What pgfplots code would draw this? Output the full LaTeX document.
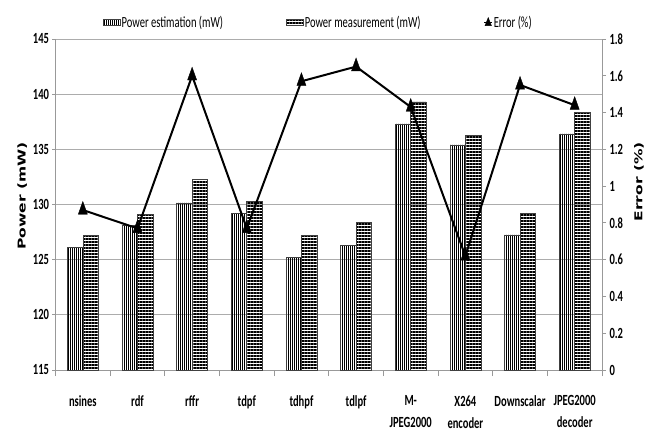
\documentclass[border=0pt]{standalone}
\usepackage{fontspec}
\setmainfont{Carlito}[FakeStretch=0.68]
\newfontfamily\dejavu{DejaVu Sans}
\usepackage{pgfplots}
\pgfplotsset{compat=1.18}
\usetikzlibrary{patterns.meta}
\newcommand{\tfont}{\fontsize{15.5}{22}\selectfont}
\begin{document}
\begin{tikzpicture}
\path[use as bounding box] (-55.5pt,-64pt) rectangle (604.5pt,370pt);
\begin{axis}[
  at={(0,0)}, anchor=south west,
  scale only axis, width=546.5pt, height=331pt,
  xmin=-0.5, xmax=9.5, ymin=115, ymax=145,
  ytick={115,120,125,130,135,140,145},
  xtick={0,...,9},
  xticklabels={nsines, rdf, rffr, tdpf, tdhpf, tdlpf, {M-\\JPEG2000}, {X264\\encoder}, Downscalar, {JPEG2000\\decoder}},
  minor xtick={-0.5,0.5,...,9.5},
  major x tick style={draw=none},
  minor x tick style={draw=gray!80, line width=0.8pt},
  minor tick length=6pt,
  major tick length=3pt,
  tick align=outside,
  ytick style={draw=gray!80, line width=0.8pt},
  axis x line*=bottom, axis y line*=left,
  axis line style={draw=gray!80, line width=0.8pt},
  ymajorgrids, grid style={gray!65, line width=0.8pt},
  xticklabel style={font=\tfont\bfseries, align=center, yshift=-19pt},
  yticklabel style={font=\tfont\bfseries, /pgf/number format/assume math mode=true},
  ylabel={\scalebox{1}[0.7]{\dejavu\bfseries\fontsize{15.5}{18}\selectfont Power (mW)}},
  ylabel style={at={(axis description cs:-0.061,0.526)}, anchor=center},
  ybar, bar width=15.5pt, ybar=0pt,
  legend columns=3,
  legend style={draw=none, fill=none, at={(0.48,1.051)}, anchor=center,
    font=\fontsize{15.5}{18}\selectfont, inner sep=0pt,
    nodes={inner xsep=1pt},
    /tikz/every even column/.append style={column sep=62pt}},
]
\addplot[draw=black!75, line width=0.6pt, area legend,
  pattern={Lines[angle=90,distance=2pt,line width=0.8pt]}] coordinates {
  (0,126.1) (1,128.1) (2,130.15) (3,129.2) (4,125.2) (5,126.3) (6,137.3) (7,135.4) (8,127.25) (9,136.4)};
\addlegendentry{Power estimation (mW)}
\addplot[draw=black!75, line width=0.6pt, area legend,
  pattern={Lines[angle=0,distance=3pt,line width=1.3pt]}] coordinates {
  (0,127.2) (1,129.15) (2,132.3) (3,130.25) (4,127.2) (5,128.4) (6,139.3) (7,136.25) (8,129.2) (9,138.4)};
\addlegendentry{Power measurement (mW)}
\addlegendimage{legend image code/.code={\draw[black, line width=1.2pt] (0pt,0pt) -- (8pt,0pt); \fill[black] (0.8pt,-3.5pt) -- (4pt,4.5pt) -- (7.2pt,-3.5pt) -- cycle;}}
\addlegendentry{Error (\%)}
\end{axis}
\begin{axis}[
  at={(0,0)}, anchor=south west,
  scale only axis, width=546.5pt, height=331pt,
  xmin=-0.5, xmax=9.5, ymin=0, ymax=1.8,
  ytick={0,0.2,0.4,0.6,0.8,1,1.2,1.4,1.6,1.8},
  hide x axis,
  axis y line*=right,
  axis line style={draw=gray!80, line width=0.8pt},
  ytick style={draw=gray!80, line width=0.8pt},
  major tick length=4pt, tick align=outside,
  yticklabel style={font=\tfont\bfseries, /pgf/number format/assume math mode=true},
  ylabel={\scalebox{1}[0.7]{\dejavu\bfseries\fontsize{15.5}{18}\selectfont Error (\%)}},
  ylabel style={at={(axis description cs:1.0677,0.569)}, anchor=center},
]
\addplot[black, line width=2pt, mark=triangle*, mark size=8.5pt,
  mark options={solid, line width=0.4pt, xscale=0.62}] coordinates {
  (0,0.87) (1,0.77) (2,1.6) (3,0.77) (4,1.57) (5,1.65) (6,1.43) (7,0.62) (8,1.55) (9,1.44)};
\end{axis}
\end{tikzpicture}
\end{document}
